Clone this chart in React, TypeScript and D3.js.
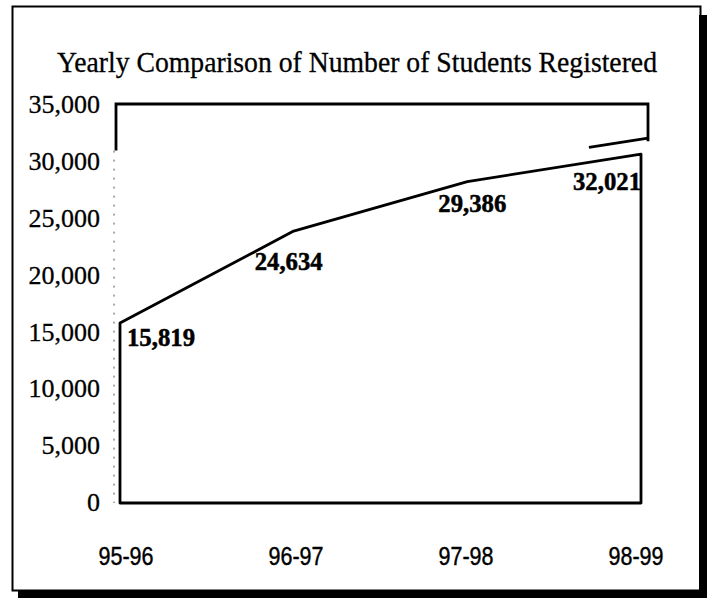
import React from "react";
import * as d3 from "d3";

const categories = ["95-96", "96-97", "97-98", "98-99"];
const students = [15819, 24634, 29386, 32021];
const yTicks = [0, 5000, 10000, 15000, 20000, 25000, 30000, 35000];
const title = "Yearly Comparison of Number of Students Registered";

export default function App() {
  const W = 714, H = 603;
  const frontLeft = 120, frontRight = 641, bottom = 503;
  const backLeft = 116, backRight = 648, backTop = 104;
  const depthX = 7, depthY = -16;

  const yAxis = d3.scaleLinear().domain([0, 35000]).range([502, backTop]);
  const yFront = d3.scaleLinear().domain([0, 35000]).range([488, 123]);
  const xFront = d3.scalePoint<string>().domain(categories).range([frontLeft, frontRight]);
  const xLabel = d3.scalePoint<string>().domain(categories).range([126, 636]);

  const pts = categories.map((c, i) => ({ c, v: students[i] }));
  const area = d3
    .area<{ c: string; v: number }>()
    .x((d) => xFront(d.c) as number)
    .y0(bottom)
    .y1((d) => yFront(d.v));

  const fmt = d3.format(",");

  const labelOffsets = [
    { dx: 41, dy: 23 },
    { dx: -5, dy: 39 },
    { dx: 5, dy: 30 },
    { dx: -34, dy: 36 },
  ];

  const p3 = { x: (xFront(categories[2]) as number) + depthX, y: yFront(students[2]) + depthY };
  const p4 = { x: (xFront(categories[3]) as number) + depthX, y: yFront(students[3]) + depthY };
  const t = 0.66;
  const pStart = { x: p3.x + (p4.x - p3.x) * t, y: p3.y + (p4.y - p3.y) * t };

  const serif = "'Liberation Serif', 'Times New Roman', serif";
  const ink = { stroke: "#000", strokeWidth: 0.5 } as const;

  return (
    <svg
      width={W}
      height={H}
      viewBox={`0 0 ${W} ${H}`}
      style={{ position: "absolute", left: 0, top: 0, background: "#fff" }}
    >
      <rect x={0} y={0} width={W} height={H} fill="#fff" />
      <rect x={12.5} y={6.5} width={688} height={584} fill="none" stroke="#000" strokeWidth={2} />
      <rect x={699} y={15} width={8} height={583} fill="#000" />
      <rect x={18} y={590} width={689} height={8} fill="#000" />

      <text
        x={357}
        y={72}
        textAnchor="middle"
        fontFamily={serif}
        fontSize={30}
        textLength={600}
        lengthAdjust="spacingAndGlyphs"
        fill="#000"
        {...ink}
        strokeWidth={0.3}
      >
        {title}
      </text>

      <path
        d={`M${backLeft},${yAxis(30900)} L${backLeft},${backTop} L${backRight},${backTop} L${backRight},${yAxis(31900) + 2}`}
        fill="none"
        stroke="#000"
        strokeWidth={2.8}
      />
      <line
        x1={backLeft - 2}
        x2={backLeft - 2}
        y1={yAxis(30900)}
        y2={bottom}
        stroke="#555"
        strokeWidth={1}
        strokeDasharray="2,7"
      />
      <line x1={pStart.x} y1={pStart.y} x2={p4.x} y2={p4.y} stroke="#000" strokeWidth={2.8} />

      <path d={area(pts) as string} fill="#fff" stroke="#000" strokeWidth={2.8} strokeLinejoin="round" />

      {yTicks.map((v) => (
        <text
          key={v}
          x={100}
          y={yAxis(v)}
          dy="0.35em"
          textAnchor="end"
          fontFamily={serif}
          fontSize={26}
          fill="#000"
          {...ink}
          strokeWidth={0.3}
        >
          {fmt(v)}
        </text>
      ))}

      {categories.map((c) => (
        <text
          key={c}
          x={xLabel(c) as number}
          y={565}
          textAnchor="middle"
          fontFamily="'Liberation Sans', Arial, sans-serif"
          fontSize={25}
          textLength={55}
          lengthAdjust="spacingAndGlyphs"
          fill="#000"
          {...ink}
          strokeWidth={0.4}
        >
          {c}
        </text>
      ))}

      {pts.map((d, i) => (
        <text
          key={d.c}
          x={(xFront(d.c) as number) + labelOffsets[i].dx}
          y={yFront(d.v) + labelOffsets[i].dy}
          textAnchor="middle"
          fontFamily={serif}
          fontWeight="bold"
          fontSize={25}
          textLength={68}
          lengthAdjust="spacingAndGlyphs"
          fill="#000"
          {...ink}
        >
          {fmt(d.v)}
        </text>
      ))}
    </svg>
  );
}
